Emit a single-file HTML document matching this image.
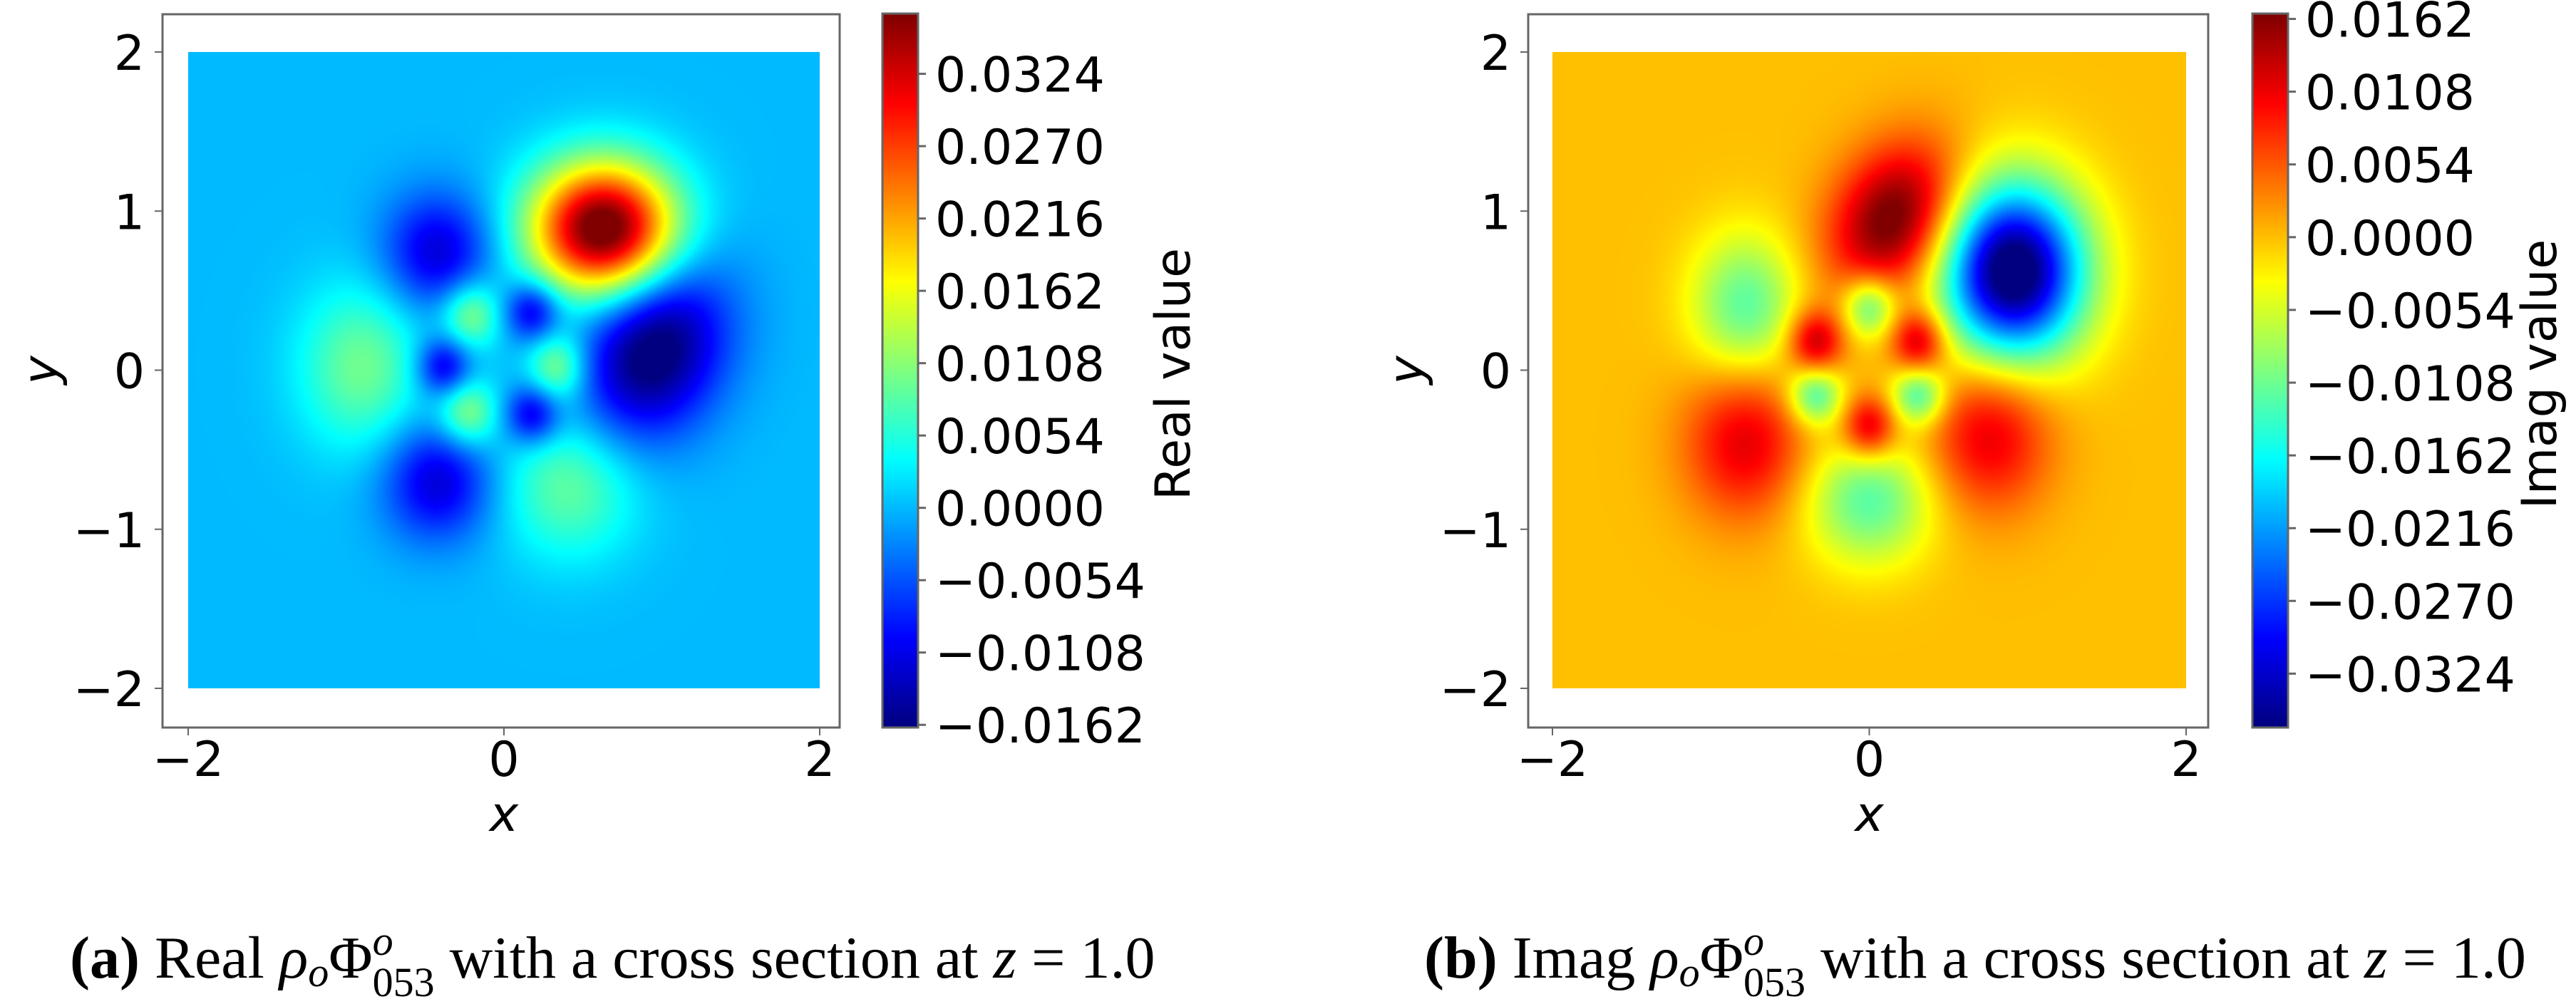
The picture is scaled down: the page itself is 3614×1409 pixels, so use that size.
<!DOCTYPE html>
<html><head><meta charset="utf-8">
<style>
html,body{margin:0;padding:0;background:#fff;}
#root{position:relative;width:3614px;height:1409px;overflow:hidden;background:#fff;}
canvas{position:absolute;}
svg{position:absolute;left:0;top:0;}
.tk{font-family:"DejaVu Sans","Liberation Sans",sans-serif;font-size:68px;fill:#000;}
.cap{font-family:"Liberation Serif",serif;font-size:84px;fill:#000;}
</style></head>
<body>
<div id="root">
<canvas id="hmA"></canvas>
<canvas id="hmB"></canvas>
<canvas id="cbA"></canvas>
<canvas id="cbB"></canvas>
<svg id="ov" width="3614" height="1409">
<text class="cap" x="98" y="1372"><tspan font-weight="bold">(a)</tspan> Real <tspan font-style="italic">ρ</tspan><tspan font-style="italic" font-size="58" dy="12">o</tspan><tspan dy="-12">Φ</tspan><tspan font-style="italic" font-size="58" dy="-32">o</tspan><tspan font-size="58" dx="-29" dy="58">053</tspan><tspan dy="-26"> with a cross section at </tspan><tspan font-style="italic">z</tspan> = 1.0</text>
<text class="cap" x="1998" y="1372"><tspan font-weight="bold">(b)</tspan> Imag <tspan font-style="italic">ρ</tspan><tspan font-style="italic" font-size="58" dy="12">o</tspan><tspan dy="-12">Φ</tspan><tspan font-style="italic" font-size="58" dy="-32">o</tspan><tspan font-size="58" dx="-29" dy="58">053</tspan><tspan dy="-26"> with a cross section at </tspan><tspan font-style="italic">z</tspan> = 1.0</text>
</svg>
</div>
<script>
// ---- data ----
const xTicks = [-2, 0, 2];
const yTicks = [-2, -1, 0, 1, 2];
const realTicks = [-0.0162, -0.0108, -0.0054, 0.0000, 0.0054, 0.0108, 0.0162, 0.0216, 0.0270, 0.0324];
const imagTicks = [-0.0324, -0.0270, -0.0216, -0.0162, -0.0108, -0.0054, 0.0000, 0.0054, 0.0108, 0.0162];
const realRange = [-0.0164, 0.0369];
const imagRange = [-0.0364, 0.0166];
// blobs: [x, y, amplitude, sigmaX, sigmaY, angle(deg)]
const realBlobs = [
  [0.63, 0.89, 0.0400, 0.32, 0.29, 0],
  [0.95, 0.12, -0.0185, 0.30, 0.40, -25],
  [-0.42, 0.74, -0.0120, 0.24, 0.26, 0],
  [-0.42, -0.70, -0.0120, 0.24, 0.26, 0],
  [-0.90, 0.02, 0.0095, 0.28, 0.36, 0],
  [0.42, -0.72, 0.0090, 0.30, 0.32, 0],
  [-0.21, 0.35, 0.0110, 0.13, 0.15, 0],
  [0.34, 0.02, 0.0110, 0.13, 0.15, 0],
  [-0.23, -0.27, 0.0110, 0.13, 0.15, 0],
  [0.18, 0.37, -0.0120, 0.12, 0.13, 0],
  [-0.38, 0.02, -0.0120, 0.12, 0.13, 0],
  [0.18, -0.28, -0.0120, 0.12, 0.13, 0]
];
const imagBlobs = [
  [0.16, 0.95, 0.0185, 0.26, 0.35, -30],
  [0.91, 0.62, -0.0400, 0.31, 0.38, 0],
  [-0.78, 0.40, -0.0120, 0.24, 0.32, 0],
  [-0.78, -0.45, 0.0115, 0.27, 0.34, 0],
  [0.76, -0.40, 0.0115, 0.27, 0.34, 0],
  [0.00, -0.82, -0.0120, 0.28, 0.28, 0],
  [0.00, 0.40, -0.0130, 0.12, 0.14, 0],
  [-0.34, -0.16, -0.0130, 0.12, 0.13, 0],
  [0.31, -0.16, -0.0130, 0.12, 0.13, 0],
  [-0.34, 0.18, 0.0130, 0.12, 0.14, 0],
  [0.31, 0.18, 0.0130, 0.12, 0.14, 0],
  [0.00, -0.36, 0.0130, 0.12, 0.14, 0]
];

// ---- layout ----
const panels = [
  {id:'A', frame:[228,20,1178,1021], xpx:[264,1150], ypx:[73,966], cb:[1238,19,1288,1021], tickLabelRight:203, ylabX:62, cbLabelX:1644, cbLabel:'Real value', blobs:realBlobs, ticks:realTicks, range:realRange, name:'real'},
  {id:'B', frame:[2144,20,3098,1021], xpx:[2178,3067], ypx:[73,966], cb:[3160,19,3210,1021], tickLabelRight:2120, ylabX:1978, cbLabelX:3561, cbLabel:'Imag value', blobs:imagBlobs, ticks:imagTicks, range:imagRange, name:'imag'}
];

function jet(t){
  t=Math.max(0,Math.min(1,t));
  const c=v=>Math.max(0,Math.min(1,v));
  return [c(1.5-Math.abs(4*t-3))*255, c(1.5-Math.abs(4*t-2))*255, c(1.5-Math.abs(4*t-1))*255];
}
function field(blobs,x,y){
  let s=0;
  for(const b of blobs){
    const a=b[5]*Math.PI/180, dx=x-b[0], dy=y-b[1];
    const u=dx*Math.cos(a)+dy*Math.sin(a), v=-dx*Math.sin(a)+dy*Math.cos(a);
    s+=b[2]*Math.exp(-(u*u/(2*b[3]*b[3])+v*v/(2*b[4]*b[4])));
  }
  return s;
}
const svg=document.getElementById('ov');
const NS='http://www.w3.org/2000/svg';
function mk(tag,attrs,txt){const e=document.createElementNS(NS,tag);for(const k in attrs)e.setAttribute(k,attrs[k]);if(txt!==undefined)e.textContent=txt;svg.appendChild(e);return e;}
function fmt(v){return (v<0?'\u2212':'')+Math.abs(v).toFixed(4);}
function fmt2(v){return (v<0?'\u2212':'')+Math.abs(v);}

panels.forEach(p=>{
  const sx=v=>p.xpx[0]+(v+2)/4*(p.xpx[1]-p.xpx[0]);
  const sy=v=>p.ypx[1]-(v+2)/4*(p.ypx[1]-p.ypx[0]);
  const cv=document.getElementById('hm'+p.id);
  const W=p.xpx[1]-p.xpx[0], H=p.ypx[1]-p.ypx[0];
  const rw=Math.round(W/2), rh=Math.round(H/2);
  cv.width=rw; cv.height=rh;
  cv.style.left=p.xpx[0]+'px'; cv.style.top=p.ypx[0]+'px';
  cv.style.width=W+'px'; cv.style.height=H+'px';
  const ctx=cv.getContext('2d'); const img=ctx.createImageData(rw,rh);
  for(let j=0;j<rh;j++)for(let i=0;i<rw;i++){
    const x=-2+4*(i+0.5)/rw, y=2-4*(j+0.5)/rh;
    const val=field(p.blobs,x,y);
    const c=jet((val-p.range[0])/(p.range[1]-p.range[0]));
    const k=(j*rw+i)*4; img.data[k]=c[0];img.data[k+1]=c[1];img.data[k+2]=c[2];img.data[k+3]=255;
  }
  ctx.putImageData(img,0,0);
  const cb=document.getElementById('cb'+p.id);
  const cw=p.cb[2]-p.cb[0], ch=p.cb[3]-p.cb[1];
  cb.width=1; cb.height=ch; cb.style.left=p.cb[0]+'px'; cb.style.top=p.cb[1]+'px'; cb.style.width=cw+'px'; cb.style.height=ch+'px';
  const c2=cb.getContext('2d');
  for(let j=0;j<ch;j++){const c=jet(1-(j+0.5)/ch);c2.fillStyle=`rgb(${c[0]|0},${c[1]|0},${c[2]|0})`;c2.fillRect(0,j,1,1);}
  let e;
  e=mk('rect',{x:p.cb[0],y:p.cb[1],width:cw,height:ch,fill:'none',stroke:'#666',"stroke-width":3});
  
  
  const cbY=v=>p.cb[3]-(v-p.range[0])/(p.range[1]-p.range[0])*ch;
  p.ticks.forEach(v=>{
    const y=cbY(v);
    e=mk('line',{x1:p.cb[2],x2:p.cb[2]+11,y1:y,y2:y,stroke:'#666',"stroke-width":3});
    
    
    e=mk('text',{class:'tk',x:p.cb[2]+24,y:y+25},fmt(v));
    
    
  });
  e=mk('text',{class:'tk',x:0,y:0,"text-anchor":'middle',transform:`translate(${p.cbLabelX+25},525) rotate(-90)`},p.cbLabel);
  
  
  const f=p.frame;
  e=mk('rect',{x:f[0],y:f[1],width:f[2]-f[0],height:f[3]-f[1],fill:'none',stroke:'#666',"stroke-width":3});
  
  
  xTicks.forEach(v=>{
    const x=sx(v);
    e=mk('line',{x1:x,x2:x,y1:f[3],y2:f[3]+11,stroke:'#666',"stroke-width":2});
    
    
    e=mk('text',{class:'tk',x:x,y:1089,"text-anchor":'middle'},fmt2(v));
    
    
  });
  yTicks.forEach(v=>{
    const y=sy(v);
    e=mk('line',{x1:f[0]-11,x2:f[0],y1:y,y2:y,stroke:'#666',"stroke-width":2});
    
    
    e=mk('text',{class:'tk',x:p.tickLabelRight,y:y+25,"text-anchor":'end'},fmt2(v));
    
    
  });
  e=mk('text',{class:'tk',x:sx(0),y:1166,"text-anchor":'middle',"font-style":'italic'},'x');
  
  
  e=mk('text',{class:'tk',x:0,y:0,"text-anchor":'middle',"font-style":'italic',transform:`translate(${p.ylabX+18},${sy(0)}) rotate(-90)`},'y');
  
  
});
</script>
</body></html>
